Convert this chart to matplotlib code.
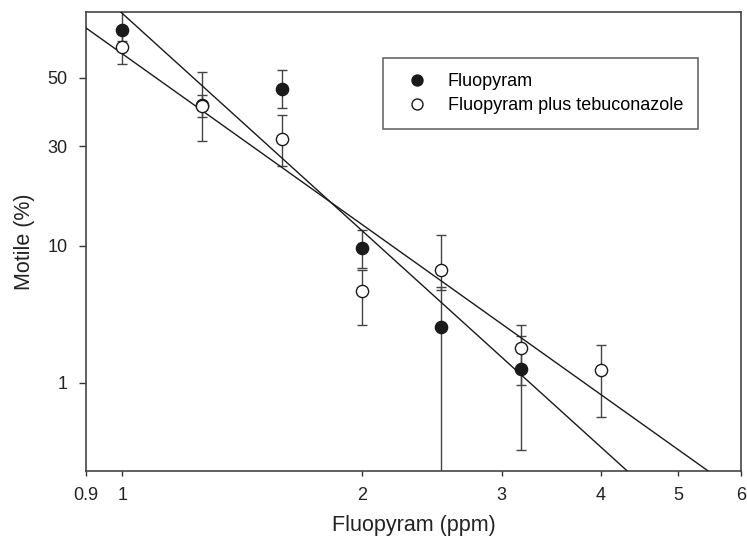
import numpy as np
import matplotlib
matplotlib.use('Agg')
import matplotlib.pyplot as plt
from statistics import NormalDist

plt.rcParams['font.family'] = ['Liberation Sans', 'DejaVu Sans']

# dose (ppm)
dose = [1.0, 1.26, 1.59, 2.0, 2.52, 3.17]
dose_mix = [1.0, 1.26, 1.59, 2.0, 2.52, 3.17, 4.0]

# motile (%) with upper / lower error limits
fluo = [64.1, 41.7, 46.6, 9.64, 2.85, 1.32]
fluo_hi = [75.0, 51.7, 52.2, 12.2, 5.5, 2.43]
fluo_lo = [60.9, 38.2, 40.9, 7.36, 0.01, 0.228]

mix = [59.1, 41.5, 32.0, 5.2, 7.15, 1.97, 1.28]
mix_hi = [63.2, 44.7, 38.7, 7.12, 11.5, 2.94, 2.08]
mix_lo = [54.1, 31.5, 24.9, 2.98, 5.27, 0.953, 0.478]

# fitted probit lines (end points)
fluo_fit_x = [0.95, 4.6]
fluo_fit_y = [72.95, 0.081]
mix_fit_x = [0.88, 5.8]
mix_fit_y = [66.3, 0.092]

xticks = [0.9, 1, 2, 3, 4, 5, 6]
yticks = [1, 10, 30, 50]

_nd = NormalDist()
_ppf = np.vectorize(_nd.inv_cdf, otypes=[float])
_cdf = np.vectorize(_nd.cdf, otypes=[float])


def probit(p):
    p = np.clip(np.asarray(p, dtype=float) / 100.0, 1e-9, 1 - 1e-9)
    return _ppf(p)


def inv_probit(z):
    return _cdf(np.asarray(z, dtype=float)) * 100.0


fig = plt.figure(figsize=(7.47, 5.46), dpi=100)
ax = fig.add_axes([0.1151, 0.1374, 0.8769, 0.8406])
ax.set_xscale('log')
ax.set_yscale('function', functions=(probit, inv_probit))

ebc = '#444444'
y = np.array(fluo)
ax.errorbar(dose, fluo, yerr=[y - np.array(fluo_lo), np.array(fluo_hi) - y],
            fmt='none', ecolor=ebc, elinewidth=1, capsize=3.3, capthick=1, zorder=2)
y = np.array(mix)
ax.errorbar(dose_mix, mix, yerr=[y - np.array(mix_lo), np.array(mix_hi) - y],
            fmt='none', ecolor=ebc, elinewidth=1, capsize=3.3, capthick=1, zorder=2)

ax.plot(fluo_fit_x, fluo_fit_y, color='#1a1a1a', lw=1, zorder=3)
ax.plot(mix_fit_x, mix_fit_y, color='#1a1a1a', lw=1, zorder=3)

ax.plot(dose, fluo, 'o', ms=8.8, mfc='#1a1a1a', mec='#1a1a1a', mew=1,
        label='Fluopyram', zorder=4)
ax.plot(dose_mix, mix, 'o', ms=8.8, mfc='white', mec='#1a1a1a', mew=1,
        label='Fluopyram plus tebuconazole', zorder=5)

ax.set_xlim(0.9, 6)
ax.set_ylim(inv_probit(-3.0), inv_probit(0.5))
ax.set_xticks(xticks)
ax.set_xticklabels([str(t) for t in xticks])
ax.xaxis.set_minor_locator(matplotlib.ticker.NullLocator())
ax.set_yticks(yticks)
ax.set_yticklabels([str(t) for t in yticks])
ax.yaxis.set_minor_locator(matplotlib.ticker.NullLocator())

ax.tick_params(axis='x', direction='out', length=3.5, width=1, pad=8,
               labelsize=13, colors='#333333', labelcolor='#222222')
ax.tick_params(axis='y', direction='out', length=5, width=1, pad=8,
               labelsize=13, colors='#333333', labelcolor='#222222')
for s in ax.spines.values():
    s.set_color('#444444')
    s.set_linewidth(1.2)

ax.set_xlabel('Fluopyram (ppm)', fontsize=15.5, color='#222222', labelpad=8)
ax.set_ylabel('Motile (%)', fontsize=15.5, color='#222222', labelpad=9)

leg = ax.legend(loc='upper left', bbox_to_anchor=(0.4534, 0.8998), borderaxespad=0,
                fontsize=13, frameon=True, fancybox=False, edgecolor='#444444',
                handlelength=2.1, handletextpad=0.67, borderpad=0.83,
                labelspacing=0.4, markerscale=0.9)
leg.get_frame().set_linewidth(1.2)

fig.savefig('out.png', dpi=100)
